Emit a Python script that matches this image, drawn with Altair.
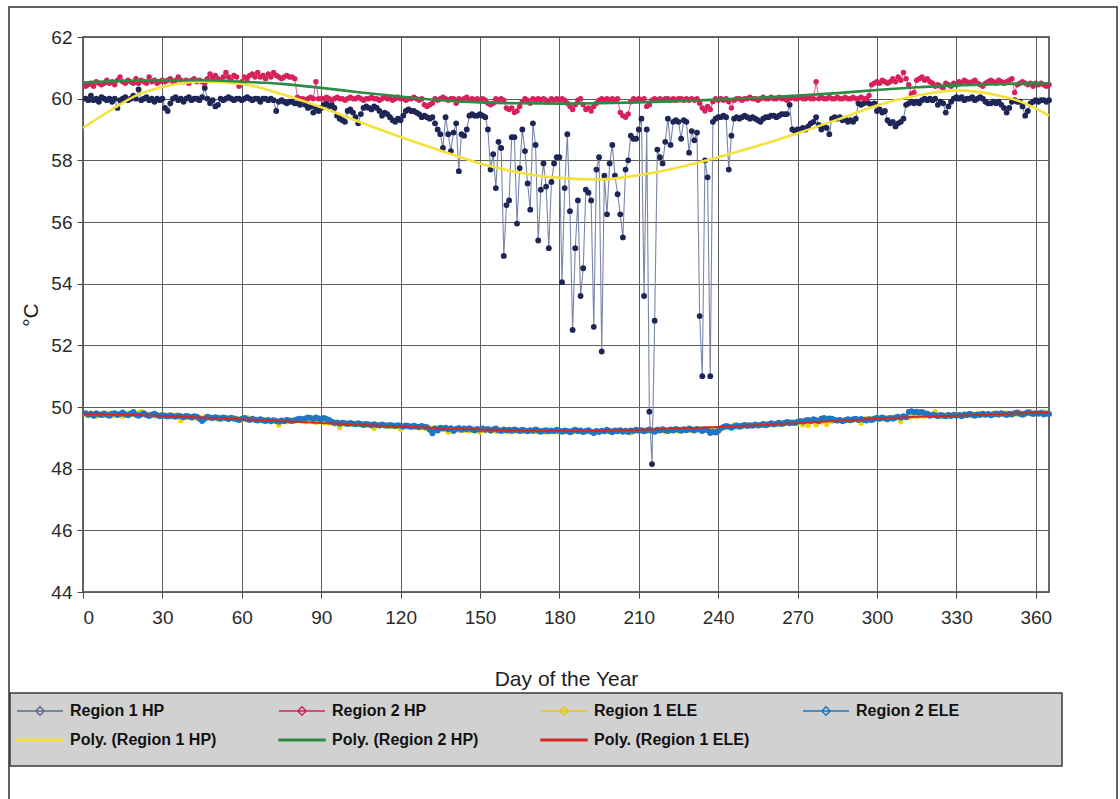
import altair as alt
import pandas as pd

# ---------------------------------------------------------------- data
days = list(range(1, 366))

region1_hp = [
    60.00, 59.95, 60.10, 59.95, 60.00, 59.90, 60.05, 60.00, 59.95, 60.00,
    59.90, 60.00, 59.70, 59.95, 60.00, 60.05, 59.95, 60.00, 60.10, 60.00,
    60.30, 59.95, 60.00, 60.05, 59.95, 60.00, 59.90, 60.00, 59.95, 60.00,
    59.70, 59.60, 59.85, 60.00, 60.05, 59.95, 60.00, 59.90, 60.00, 60.05,
    59.95, 60.00, 60.00, 59.95, 60.05, 60.35, 60.00, 59.85, 59.95, 59.75,
    59.80, 60.00, 59.95, 60.00, 60.05, 60.00, 59.95, 60.00, 60.00, 59.95,
    60.00, 60.05, 60.00, 59.95, 60.00, 60.00, 59.90, 60.00, 60.00, 59.95,
    60.00, 59.95, 59.60, 59.90, 59.95, 59.90, 59.85, 59.90, 59.90, 59.85,
    59.85, 59.80, 59.95, 59.80, 59.70, 59.75, 59.55, 59.70, 59.60, 59.70,
    59.80, 59.85, 59.75, 59.80, 59.70, 59.45, 59.35, 59.30, 59.25, 59.60,
    59.65, 59.55, 59.40, 59.20, 59.50, 59.70, 59.75, 59.70, 59.65, 59.75,
    59.70, 59.60, 59.45, 59.55, 59.50, 59.40, 59.30, 59.25, 59.35, 59.30,
    59.45, 59.60, 59.65, 59.60, 59.60, 59.55, 59.50, 59.40, 59.45, 59.40,
    59.35, 59.40, 59.20, 59.00, 58.85, 58.40, 59.40, 58.85, 58.30, 58.90,
    59.20, 57.65, 58.85, 58.80, 59.00, 59.45, 59.50, 59.45, 59.45, 59.50,
    59.45, 59.40, 59.00, 57.70, 58.20, 57.10, 58.60, 58.40, 54.90, 56.55,
    56.70, 58.75, 58.75, 55.95, 57.75, 59.00, 58.30, 57.25, 56.40, 59.20,
    58.50, 55.40, 57.05, 57.90, 57.15, 55.15, 57.30, 57.90, 58.10, 58.10,
    54.05, 57.10, 58.85, 56.35, 52.50, 55.15, 56.70, 53.60, 54.50, 57.05,
    56.95, 56.70, 52.60, 57.70, 58.10, 51.80, 57.50, 56.25, 57.90, 58.50,
    57.50, 56.90, 56.25, 55.50, 57.70, 58.00, 58.80, 58.70, 58.70, 59.00,
    59.35, 53.60, 59.00, 49.85, 48.15, 52.80, 58.35, 58.10, 57.90, 58.60,
    59.35, 58.50, 59.25, 59.30, 59.25, 58.70, 59.30, 59.25, 58.25, 58.95,
    58.65, 58.90, 52.95, 51.00, 58.00, 57.45, 51.00, 59.25, 59.35, 59.40,
    59.40, 59.45, 59.40, 57.70, 58.80, 59.35, 59.40, 59.35, 59.40, 59.45,
    59.40, 59.35, 59.40, 59.35, 59.30, 59.25, 59.35, 59.40, 59.40, 59.45,
    59.45, 59.40, 59.45, 59.50, 59.50, 59.50, 59.80, 59.00, 58.95, 59.00,
    59.00, 59.05, 59.00, 59.10, 59.20, 59.25, 59.40, 59.15, 59.00, 59.10,
    59.05, 58.85, 59.35, 59.40, 59.35, 59.40, 59.30, 59.35, 59.25, 59.30,
    59.25, 59.35, 59.85, 59.80, 59.85, 59.90, 59.85, 59.80, 59.85, 59.60,
    59.65, 59.55, 59.60, 59.30, 59.20, 59.25, 59.10, 59.20, 59.25, 59.35,
    59.80, 59.85, 59.90, 59.85, 59.90, 59.85, 59.95, 60.00, 59.95, 60.00,
    59.95, 60.00, 59.80, 59.90, 59.85, 59.55, 59.75, 59.90, 60.00, 60.05,
    60.00, 60.05, 59.95, 60.00, 60.00, 60.05, 59.95, 60.00, 60.05, 60.00,
    59.90, 59.85, 59.85, 59.90, 59.85, 59.90, 59.80, 59.70, 59.55, 59.70,
    59.90, 59.95, 59.90, 59.90, 59.75, 59.45, 59.60, 59.85, 59.90, 59.95,
    59.90, 59.95, 59.95, 59.90, 59.95,
]

region2_hp = [
    60.40, 60.45, 60.50, 60.40, 60.55, 60.50, 60.45, 60.50, 60.60, 60.50,
    60.55, 60.45, 60.60, 60.70, 60.55, 60.50, 60.60, 60.55, 60.50, 60.65,
    60.50, 60.60, 60.55, 60.50, 60.70, 60.55, 60.60, 60.50, 60.55, 60.60,
    60.55, 60.60, 60.65, 60.55, 60.60, 60.70, 60.60, 60.55, 60.60, 60.50,
    60.60, 60.65, 60.55, 60.60, 60.55, 60.50, 60.65, 60.80, 60.70, 60.75,
    60.65, 60.60, 60.70, 60.85, 60.70, 60.60, 60.75, 60.70, 60.40, 60.55,
    60.70, 60.65, 60.75, 60.80, 60.70, 60.85, 60.70, 60.75, 60.65, 60.80,
    60.70, 60.85, 60.75, 60.70, 60.65, 60.70, 60.75, 60.70, 60.70, 60.65,
    60.05, 60.00, 60.00, 59.95, 60.00, 60.05, 60.00, 60.55, 60.00, 60.00,
    60.00, 60.05, 60.00, 59.95, 60.00, 60.05, 60.00, 60.00, 59.95, 60.00,
    60.05, 60.00, 60.00, 60.05, 60.00, 59.95, 60.00, 60.00, 60.05, 60.00,
    60.00, 59.95, 60.00, 60.05, 60.00, 60.00, 59.95, 60.00, 60.05, 60.00,
    60.00, 59.95, 60.00, 60.00, 60.05, 60.00, 59.95, 60.00, 59.80, 59.75,
    59.80, 59.85, 60.00, 59.95, 60.00, 60.05, 60.00, 59.95, 60.00, 60.00,
    59.85, 60.00, 59.95, 60.00, 60.05, 59.95, 60.00, 59.95, 60.00, 59.95,
    60.00, 59.95, 59.85, 59.80, 59.85, 60.00, 59.95, 60.00, 59.95, 59.70,
    59.65, 59.70, 59.55, 59.60, 59.75, 59.90, 60.00, 59.95, 59.85, 60.00,
    59.95, 60.00, 59.95, 60.00, 59.95, 59.90, 60.00, 59.95, 60.00, 59.95,
    60.00, 59.95, 59.85, 59.75, 59.65, 59.80, 59.95, 60.00, 59.80, 59.65,
    59.70, 59.60, 59.75, 59.85, 59.95, 60.00, 59.95, 60.00, 59.95, 60.00,
    59.95, 60.00, 59.55, 59.45, 59.40, 59.50, 59.90, 60.00, 59.95, 60.00,
    59.95, 60.00, 59.75, 59.80, 59.95, 60.00, 59.95, 60.00, 59.95, 60.00,
    60.00, 59.95, 60.00, 59.95, 60.00, 60.00, 59.95, 60.00, 59.95, 60.00,
    59.95, 60.00, 59.85, 59.70, 59.60, 59.75, 59.65, 59.90, 60.00, 59.95,
    60.00, 59.95, 60.00, 59.90, 59.70, 59.95, 60.00, 60.00, 59.95, 60.00,
    60.00, 60.05, 60.00, 60.00, 59.95, 60.00, 60.05, 60.00, 60.00, 60.05,
    60.00, 60.00, 60.05, 60.00, 60.00, 59.95, 60.00, 60.05, 60.00, 60.00,
    60.05, 60.00, 60.00, 60.05, 60.00, 60.00, 60.55, 60.00, 60.05, 60.00,
    60.00, 60.05, 60.00, 60.00, 60.05, 60.00, 60.00, 60.05, 60.00, 60.00,
    60.05, 60.00, 60.00, 60.05, 60.00, 60.00, 60.10, 60.45, 60.50, 60.55,
    60.50, 60.60, 60.55, 60.50, 60.55, 60.65, 60.55, 60.70, 60.60, 60.85,
    60.65, 60.45, 60.15, 60.20, 60.60, 60.65, 60.70, 60.60, 60.65, 60.55,
    60.50, 60.40, 60.45, 60.40, 60.35, 60.50, 60.45, 60.40, 60.50, 60.45,
    60.55, 60.50, 60.60, 60.55, 60.50, 60.55, 60.60, 60.50, 60.45, 60.40,
    60.50, 60.55, 60.60, 60.55, 60.50, 60.60, 60.55, 60.50, 60.55, 60.60,
    60.65, 60.20, 60.45, 60.50, 60.55, 60.50, 60.45, 60.50, 60.40, 60.50,
    60.45, 60.50, 60.45, 60.40, 60.45,
]

region1_ele = [
    49.76, 49.72, 49.80, 49.74, 49.70, 49.77, 49.79, 49.73, 49.76, 49.80, 49.72, 49.75, 49.78, 49.74, 49.70,
    49.78, 49.80, 49.74, 49.76, 49.79, 49.82, 49.85, 49.76, 49.73, 49.77, 49.74, 49.71, 49.75, 49.72, 49.76,
    49.70, 49.73, 49.68, 49.72, 49.74, 49.70, 49.56, 49.69, 49.66, 49.70, 49.67, 49.64, 49.68, 49.66, 49.63,
    49.67, 49.64, 49.66, 49.62, 49.65, 49.60, 49.63, 49.66, 49.62, 49.59, 49.63, 49.61, 49.64, 49.60, 49.58,
    49.62, 49.66, 49.59, 49.61, 49.57, 49.60, 49.58, 49.55, 49.59, 49.56, 49.53, 49.57, 49.55, 49.42, 49.54,
    49.56, 49.52, 49.55, 49.58, 49.54, 49.57, 49.59, 49.55, 49.52, 49.56, 49.58, 49.53, 49.50, 49.54, 49.51,
    49.49, 49.52, 49.47, 49.50, 49.46, 49.49, 49.33, 49.47, 49.45, 49.48, 49.44, 49.47, 49.43, 49.46, 49.42,
    49.45, 49.41, 49.44, 49.40, 49.30, 49.42, 49.39, 49.41, 49.38, 49.40, 49.37, 49.39, 49.36, 49.38, 49.28,
    49.35, 49.38, 49.34, 49.36, 49.33, 49.35, 49.32, 49.34, 49.31, 49.33, 49.30, 49.32, 49.29, 49.31, 49.28,
    49.30, 49.27, 49.18, 49.28, 49.26, 49.29, 49.25, 49.27, 49.24, 49.26, 49.23, 49.25, 49.28, 49.24, 49.18,
    49.26, 49.23, 49.25, 49.22, 49.24, 49.21, 49.23, 49.26, 49.22, 49.24, 49.20, 49.23, 49.21, 49.24, 49.22,
    49.20, 49.23, 49.21, 49.24, 49.20, 49.22, 49.19, 49.23, 49.21, 49.18, 49.22, 49.20, 49.23, 49.19, 49.21,
    49.22, 49.19, 49.23, 49.20, 49.18, 49.21, 49.24, 49.20, 49.22, 49.19, 49.23, 49.21, 49.17, 49.22, 49.20,
    49.24, 49.20, 49.22, 49.19, 49.23, 49.21, 49.25, 49.22, 49.20, 49.24, 49.21, 49.16, 49.22, 49.25, 49.21,
    49.24, 49.22, 49.26, 49.23, 49.21, 49.25, 49.22, 49.27, 49.24, 49.20, 49.26, 49.23, 49.27, 49.25, 49.22,
    49.27, 49.24, 49.28, 49.25, 49.23, 49.27, 49.30, 49.26, 49.29, 49.25, 49.28, 49.31, 49.27, 49.30, 49.26,
    49.32, 49.36, 49.33, 49.38, 49.35, 49.42, 49.37, 49.40, 49.36, 49.39, 49.43, 49.40, 49.38, 49.42, 49.39,
    49.43, 49.40, 49.44, 49.42, 49.46, 49.43, 49.47, 49.44, 49.48, 49.45, 49.49, 49.52, 49.48, 49.51, 49.47,
    49.50, 49.42, 49.53, 49.40, 49.52, 49.55, 49.42, 49.54, 49.51, 49.55, 49.43, 49.56, 49.53, 49.57, 49.54,
    49.58, 49.55, 49.59, 49.56, 49.60, 49.57, 49.61, 49.58, 49.47, 49.60, 49.62, 49.59, 49.63, 49.60, 49.64,
    49.61, 49.65, 49.62, 49.66, 49.63, 49.67, 49.64, 49.68, 49.52, 49.67, 49.70, 49.66, 49.69, 49.72, 49.68,
    49.71, 49.74, 49.70, 49.73, 49.75, 49.72, 49.85, 49.74, 49.71, 49.75, 49.73, 49.76, 49.72, 49.74, 49.77,
    49.73, 49.76, 49.74, 49.78, 49.75, 49.72, 49.77, 49.74, 49.79, 49.76, 49.73, 49.78, 49.75, 49.80, 49.77,
    49.74, 49.79, 49.76, 49.81, 49.78, 49.75, 49.80, 49.77, 49.82, 49.79, 49.76, 49.81, 49.86, 49.80, 49.77,
    49.82, 49.79, 49.84, 49.80, 49.78,
]

region2_ele = [
    49.80, 49.75, 49.78, 49.72, 49.80, 49.76, 49.74, 49.79, 49.75, 49.72, 49.78, 49.80, 49.74, 49.77, 49.82,
    49.76, 49.73, 49.78, 49.84, 49.75, 49.72, 49.76, 49.80, 49.74, 49.71, 49.75, 49.78, 49.73, 49.70, 49.74,
    49.72, 49.69, 49.73, 49.70, 49.68, 49.72, 49.70, 49.67, 49.71, 49.69, 49.66, 49.70, 49.68, 49.62, 49.55,
    49.62, 49.68, 49.66, 49.64, 49.67, 49.65, 49.62, 49.66, 49.64, 49.61, 49.65, 49.63, 49.60, 49.58, 49.62,
    49.64, 49.60, 49.58, 49.62, 49.59, 49.56, 49.60, 49.57, 49.55, 49.58, 49.54, 49.57, 49.55, 49.52, 49.56,
    49.54, 49.58, 49.56, 49.55, 49.57, 49.60, 49.62, 49.60, 49.63, 49.66, 49.64, 49.61, 49.66, 49.63, 49.60,
    49.64, 49.61, 49.58, 49.52, 49.48, 49.50, 49.46, 49.49, 49.47, 49.45, 49.48, 49.46, 49.44, 49.47, 49.45,
    49.42, 49.45, 49.43, 49.41, 49.44, 49.42, 49.40, 49.43, 49.41, 49.39, 49.42, 49.40, 49.38, 49.41, 49.39,
    49.37, 49.40, 49.38, 49.36, 49.39, 49.37, 49.35, 49.38, 49.36, 49.34, 49.26, 49.15, 49.30, 49.24, 49.33,
    49.30, 49.33, 49.28, 49.31, 49.22, 49.29, 49.32, 49.26, 49.30, 49.28, 49.31, 49.27, 49.24, 49.29, 49.27,
    49.30, 49.26, 49.29, 49.24, 49.27, 49.30, 49.25, 49.22, 49.27, 49.24, 49.26, 49.23, 49.27, 49.25, 49.22,
    49.26, 49.24, 49.21, 49.25, 49.23, 49.27, 49.24, 49.20, 49.23, 49.25, 49.21, 49.24, 49.22, 49.26, 49.23,
    49.20, 49.24, 49.22, 49.18, 49.23, 49.26, 49.21, 49.24, 49.19, 49.22, 49.25, 49.20, 49.16, 49.22, 49.19,
    49.23, 49.21, 49.26, 49.22, 49.18, 49.24, 49.21, 49.25, 49.20, 49.23, 49.19, 49.24, 49.22, 49.26, 49.23,
    49.25, 49.21, 49.24, 49.27, 49.23, 49.20, 49.26, 49.24, 49.28, 49.25, 49.22, 49.27, 49.24, 49.29, 49.26,
    49.23, 49.28, 49.25, 49.30, 49.27, 49.24, 49.29, 49.26, 49.22, 49.28, 49.25, 49.16, 49.20, 49.17, 49.22,
    49.30, 49.35, 49.38, 49.36, 49.33, 49.37, 49.40, 49.36, 49.39, 49.42, 49.38, 49.41, 49.39, 49.43, 49.40,
    49.42, 49.45, 49.41, 49.44, 49.47, 49.43, 49.46, 49.49, 49.45, 49.48, 49.51, 49.47, 49.50, 49.48, 49.52,
    49.55, 49.52, 49.56, 49.58, 49.55, 49.60, 49.57, 49.54, 49.62, 49.64, 49.60, 49.63, 49.62, 49.58, 49.56,
    49.58, 49.54, 49.57, 49.60, 49.57, 49.60, 49.62, 49.58, 49.61, 49.59, 49.56, 49.60, 49.58, 49.62, 49.65,
    49.62, 49.66, 49.63, 49.60, 49.64, 49.62, 49.66, 49.68, 49.65, 49.70, 49.67, 49.84, 49.86, 49.83, 49.85,
    49.82, 49.84, 49.80, 49.78, 49.72, 49.75, 49.73, 49.70, 49.74, 49.72, 49.70, 49.74, 49.71, 49.75, 49.72,
    49.74, 49.70, 49.76, 49.73, 49.78, 49.75, 49.72, 49.76, 49.74, 49.78, 49.75, 49.77, 49.73, 49.76, 49.79,
    49.76, 49.80, 49.77, 49.74, 49.78, 49.76, 49.80, 49.82, 49.78, 49.75, 49.79, 49.83, 49.80, 49.77, 49.80,
    49.78, 49.81, 49.76, 49.79, 49.77,
]

# polynomial trend curves, sampled along the year
trend_days = [0, 10, 20, 30, 45, 60, 75, 90, 105, 120, 135, 150, 165, 180,
              195, 210, 225, 240, 255, 270, 285, 300, 315, 330, 345, 355, 365]
poly_region1_hp = [59.05, 59.60, 60.10, 60.38, 60.55, 60.48, 60.15, 59.72, 59.23,
                   58.76, 58.32, 57.90, 57.60, 57.43, 57.38, 57.52, 57.77, 58.10,
                   58.47, 58.88, 59.32, 59.78, 60.10, 60.27, 60.12, 59.88, 59.45]
poly_region2_hp = [60.52, 60.56, 60.58, 60.60, 60.60, 60.55, 60.48, 60.35, 60.20,
                   60.07, 59.95, 59.88, 59.85, 59.84, 59.85, 59.88, 59.92, 59.97,
                   60.03, 60.10, 60.18, 60.28, 60.37, 60.43, 60.47, 60.49, 60.50]
poly_region1_ele = [49.78, 49.76, 49.74, 49.71, 49.66, 49.60, 49.54, 49.48, 49.42,
                    49.37, 49.31, 49.27, 49.24, 49.22, 49.23, 49.26, 49.30, 49.35,
                    49.41, 49.48, 49.55, 49.62, 49.68, 49.72, 49.77, 49.80, 49.82]

for s in (region1_hp, region2_hp, region1_ele, region2_ele):
    assert len(s) == len(days), len(s)

series_names = ["Region 1 HP", "Region 2 HP", "Region 1 ELE", "Region 2 ELE",
                "Poly. (Region 1 HP)", "Poly. (Region 2 HP)", "Poly. (Region 1 ELE)"]

# ---------------------------------------------------------------- styling
marker_colors = {"Region 1 HP": "#1d2657", "Region 2 HP": "#d7215a",
                 "Region 1 ELE": "#f2d500", "Region 2 ELE": "#1f76c2"}
line_colors = {"Region 1 HP": "#7a86aa", "Region 2 HP": "#e36a8e",
               "Region 1 ELE": "#f4dc3a", "Region 2 ELE": "#5b9bd3"}
marker_sizes = {"Region 1 HP": 34, "Region 2 HP": 30, "Region 1 ELE": 28, "Region 2 ELE": 36}
trend_colors = {"Poly. (Region 1 HP)": "#f3e13c", "Poly. (Region 2 HP)": "#2f8a45",
                "Poly. (Region 1 ELE)": "#cf2b22"}

legend_colors = ["#5f6b8e", "#d7215a", "#e8c800", "#1f76c2",
                 "#f3e13c", "#2f8a45", "#cf2b22"]
# legend glyphs: a short line with a small diamond, or a thick line
marker_glyph = "M-1,0H3.6M1.3,-0.42L1.72,0L1.3,0.42L0.88,0Z"
trend_glyph = "M-1,-0.07H3.6V0.07H-1Z"
legend_shapes = [marker_glyph] * 4 + [trend_glyph] * 3

FONT = "Liberation Sans"

obs = pd.DataFrame({
    "day": days * 4,
    "value": region1_hp + region2_hp + region1_ele + region2_ele,
    "series": sum([[n] * len(days) for n in series_names[:4]], []),
})
trends = pd.DataFrame({
    "day": trend_days * 3,
    "value": poly_region1_hp + poly_region2_hp + poly_region1_ele,
    "series": sum([[n] * len(trend_days) for n in series_names[4:]], []),
})

x_enc = alt.X(
    "day:Q",
    scale=alt.Scale(domain=[0, 365], nice=False, zero=False),
    axis=alt.Axis(values=list(range(0, 361, 30)), title="Day of the Year",
                  labelPadding=10, titlePadding=41),
)
y_enc = alt.Y(
    "value:Q",
    scale=alt.Scale(domain=[44, 62], nice=False, zero=False),
    axis=alt.Axis(values=list(range(44, 63, 2)), title="°C",
                  labelPadding=5, titlePadding=9),
)

layers = []

# outer chart frame and the legend panel behind the legend entries
frame = alt.Chart(alt.Data(values=[{}])).mark_rect(
    fill="white", fillOpacity=0, stroke="#2e2e2e", strokeWidth=1.5
).encode(x=alt.value(-74), x2=alt.value(1034), y=alt.value(-30), y2=alt.value(780))
legend_panel = alt.Chart(alt.Data(values=[{}])).mark_rect(
    fill="#d1d1d1", stroke="#3a3a3a", strokeWidth=1.5
).encode(x=alt.value(-73), x2=alt.value(979), y=alt.value(656), y2=alt.value(729))
layers += [frame, legend_panel]

for name in series_names[:4]:
    base = alt.Chart(obs).transform_filter(alt.datum.series == name)
    layers.append(base.mark_line(color=line_colors[name], strokeWidth=1.1)
                  .encode(x=x_enc, y=y_enc))
    layers.append(base.mark_point(filled=True, shape="circle", opacity=1,
                                  color=marker_colors[name], size=marker_sizes[name])
                  .encode(x=x_enc, y=y_enc))

for name in series_names[4:]:
    layers.append(alt.Chart(trends).transform_filter(alt.datum.series == name)
                  .mark_line(color=trend_colors[name], strokeWidth=2.6 if name != "Poly. (Region 1 ELE)" else 2.0,
                             interpolate="monotone")
                  .encode(x=x_enc, y=y_enc))

legend_def = alt.Legend(
    title=None, orient="none", legendX=-73, legendY=657, columns=4,
    direction="horizontal", gridAlign="all",
    symbolSize=400, symbolStrokeWidth=1.5, symbolOpacity=1,
    labelFont=FONT, labelFontSize=16, labelFontWeight="bold", labelColor="#111111",
    labelOffset=32, labelLimit=400, columnPadding=50, rowPadding=10, padding=6,
    fillColor="transparent", strokeColor="transparent",
)
legend_layer = alt.Chart(pd.DataFrame({"series": series_names})).mark_point(
    filled=False, size=0, strokeWidth=1.5
).encode(
    color=alt.Color("series:N", scale=alt.Scale(domain=series_names, range=legend_colors),
                    legend=legend_def),
    shape=alt.Shape("series:N", scale=alt.Scale(domain=series_names, range=legend_shapes),
                    legend=legend_def),
)
layers.append(legend_layer)

chart = alt.layer(*layers).properties(
    width=966, height=555,
    autosize=alt.AutoSizeParams(type="none"),
    padding={"left": 83, "top": 37, "right": 71, "bottom": 207},
    background="white",
).configure_view(
    fill="#d5d5d5", stroke="#3a3a3a", strokeWidth=1.5,
).configure_axis(
    domain=False, grid=True, gridColor="#5c5c5c", gridWidth=1,
    ticks=True, tickColor="#444444", tickSize=6, tickWidth=1,
    labelFont=FONT, labelFontSize=19, labelColor="#2b2b2b",
    titleFont=FONT, titleFontSize=21, titleFontWeight="normal", titleColor="#1e1e1e",
)

chart.save("out.html", embed_options={"renderer": "svg", "actions": False})
